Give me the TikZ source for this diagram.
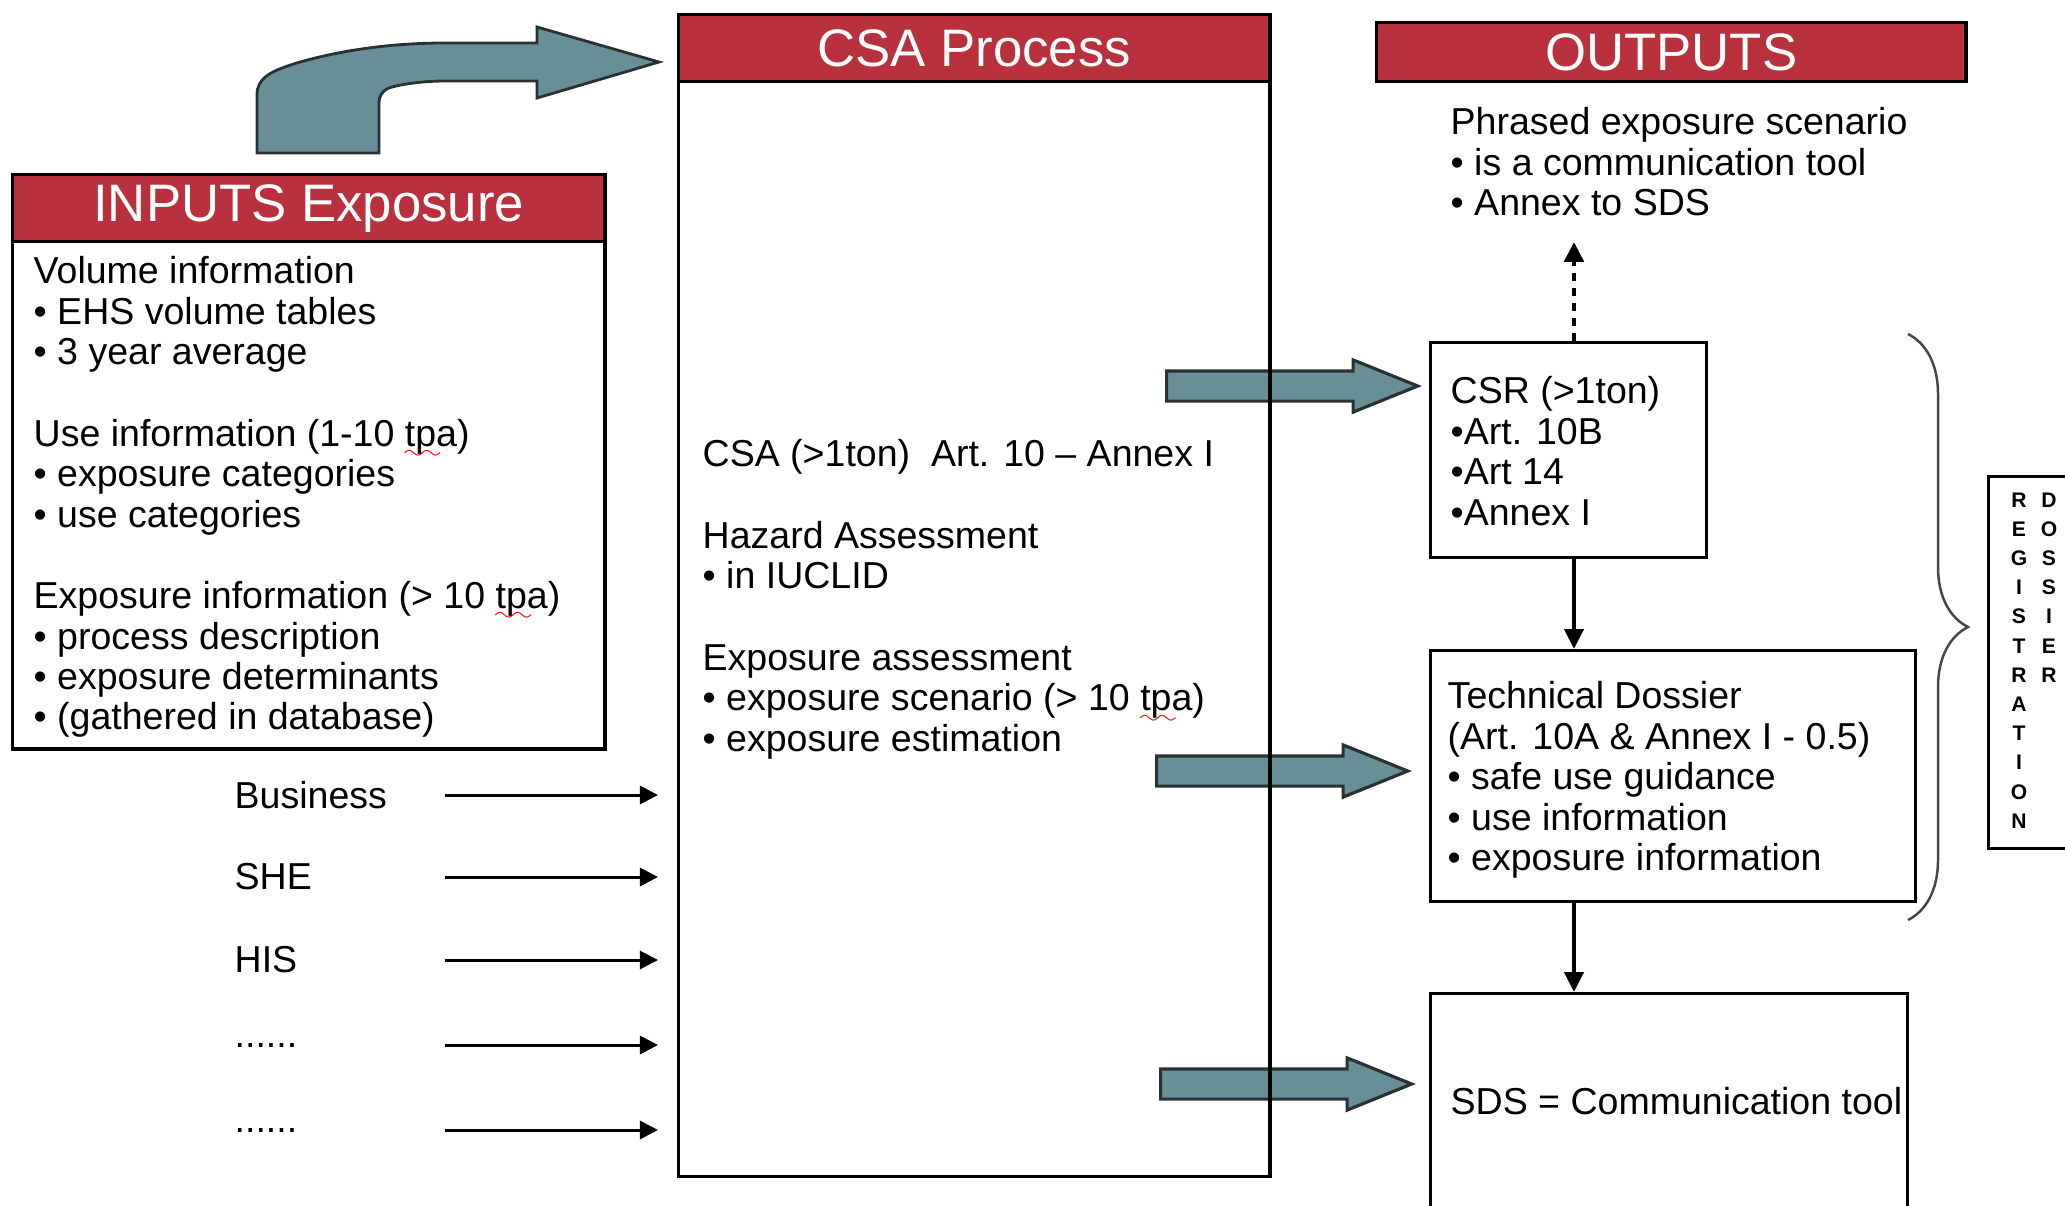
\documentclass[tikz,border=0pt]{standalone}
\usepackage{fontspec}
\setmainfont{Liberation Sans}
\usetikzlibrary{arrows.meta,shapes.arrows,decorations.pathreplacing,positioning}

\definecolor{hdred}{RGB}{184,49,60}
\definecolor{slate}{RGB}{104,143,152}
\definecolor{slateedge}{RGB}{40,50,53}

\font\wavefont=lasy6
\newlength\tpawd
\newcommand\tpa{\settowidth\tpawd{tpa}\leavevmode\rlap{\color{red}\lower3.5pt\hbox to\tpawd{\leaders\hbox{\wavefont\char58}\hfill}}tpa}
\newcommand\sixdots{......}

\tikzset{
  panel/.style={draw, line width=0.9pt, anchor=north west, inner sep=0pt},
  header/.style={panel, fill=hdred, text=white, font=\fontsize{15}{18}\selectfont},
  body/.style={align=left, anchor=north west, inner sep=0pt, font=\fontsize{10.67}{11.5}\selectfont},
  regtxt/.style={align=center, anchor=north, inner sep=0pt, font=\fontsize{6}{8.3}\selectfont\bfseries},
  fatarrow/.style={single arrow, draw=slateedge, fill=slate, line width=0.9pt, inner sep=0pt,
    text height=0.27cm, text depth=0pt, minimum height=2.51cm,
    single arrow head extend=0.11cm, single arrow tip angle=44, anchor=tail},
  flow/.style={line width=1.2pt, -{Triangle[length=0.2cm,width=0.19cm]}},
  inarrow/.style={line width=0.85pt, shorten >=0.19cm, -{Triangle[length=0.18cm,width=0.18cm]}},
}

\begin{document}
\begin{tikzpicture}[x=0.01cm, y=-0.01cm]
    \useasboundingbox (0,0) rectangle (2065,1205);
    \clip (0,0) rectangle (2065,1205);

    \fill[slate, draw=slateedge, line width=0.8pt] (257,153) -- (257,95)
        .. controls (257,78) and (270,71) .. (300,62)
        .. controls (350,48) and (400,43) .. (445,43) -- (537,43) -- (537,27)
        -- (659,62) -- (537,98) -- (537,81) -- (445,81)
        .. controls (420,81) and (397,85) .. (389,88)
        .. controls (382,91) and (379,96) .. (379,103) -- (379,153) -- cycle;

    \node[fatarrow] (fa1) at (1165,386) {};
    \node[fatarrow] (fa2) at (1155,771) {};
    \node[fatarrow] (fa3) at (1159,1084) {};

    \node[panel, minimum width=5.92cm, minimum height=5.74cm] (inp) at (11,173) {};
    \node[header, minimum width=5.92cm, minimum height=0.67cm] (inph) at (11,173) {INPUTS Exposure};
    \node[panel, minimum width=5.91cm, minimum height=11.61cm] (csa) at (677,13) {};
    \node[header, minimum width=5.91cm, minimum height=0.67cm] (csah) at (677,13) {CSA Process};
    \node[header, minimum width=5.89cm, minimum height=0.59cm] (outh) at (1375,21) {OUTPUTS};

    \node[panel, minimum width=2.76cm, minimum height=2.15cm] (csr) at (1429,341) {};
    \node[panel, minimum width=4.85cm, minimum height=2.51cm] (td) at (1429,649) {};
    \node[panel, minimum width=4.77cm, minimum height=2.50cm] (sds) at (1429,992) {};
    \node[panel, minimum width=1.10cm, minimum height=3.72cm] (reg) at (1987,475) {};

    \node[body] (inptxt) at (33,256) {Volume information\\• EHS volume tables\\• 3 year average\\[0.41cm]
        Use information (1-10 \tpa)\\• exposure categories\\• use categories\\[0.41cm]
        Exposure information (> 10 \tpa)\\• process description\\• exposure determinants\\• (gathered in database)};
    \node[body] (csatxt) at (702,439) {CSA (>1ton)\ \ Art. 10 – Annex I\\[0.41cm]
        Hazard Assessment\\• in IUCLID\\[0.41cm]
        Exposure assessment\\• exposure scenario (> 10 \tpa)\\• exposure estimation};
    \node[body] (phr) at (1450,107) {Phrased exposure scenario\\• is a communication tool\\• Annex to SDS};
    \node[body] (csrtxt) at (1450,376) {CSR (>1ton)\\•Art. 10B\\•Art 14\\•Annex I};
    \node[body] (tdtxt) at (1447,681) {Technical Dossier\\(Art. 10A \& Annex I - 0.5)\\• safe use guidance\\• use information\\• exposure information};
    \node[body, anchor=west] (sdstxt) at (1450,1101) {SDS = Communication tool};

    \node[regtxt] (regl) at (2019,492) {R\\E\\G\\I\\S\\T\\R\\A\\T\\I\\O\\N};
    \node[regtxt] (regr) at (2049,492) {D\\O\\S\\S\\I\\E\\R};

    \coordinate (lstart) at (445,0);
    \foreach \n/\lbl/\y in {bus/Business/795, she/SHE/877, his/HIS/960, dta/\sixdots/1045, dtb/\sixdots/1130}{
        \node[body, anchor=west] (\n) at (234,\y) {\lbl};
        \draw[inarrow] (\n -| lstart) -- (\n -| csa.west);
    }

    \coordinate (vx) at (1574,0);
    \draw[flow, line width=1.4pt, dash pattern=on 0.08cm off 0.07cm] (csr.north -| vx) -- ([yshift=-0.25cm]phr.south -| vx);
    \draw[flow] (csr.south -| vx) -- (td.north -| vx);
    \draw[flow] (td.south -| vx) -- (sds.north -| vx);

    \draw[gray!55!black, line width=0.7pt, decorate, decoration={brace, amplitude=0.6cm}] (1908,334) -- (1908,920);
\end{tikzpicture}
\end{document}
